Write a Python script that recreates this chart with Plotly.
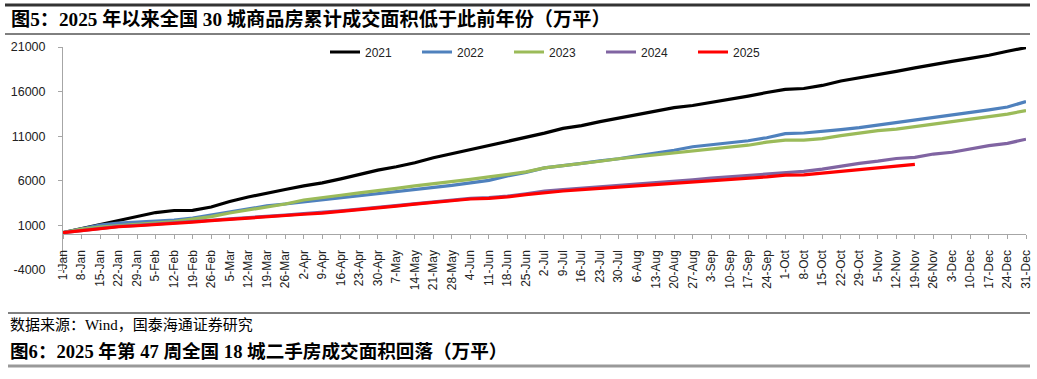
import plotly.graph_objects as go

# ---- data (万平, weekly cumulative) ----
weeks = ["1-Jan","8-Jan","15-Jan","22-Jan","29-Jan","5-Feb","12-Feb","19-Feb","26-Feb",
         "5-Mar","12-Mar","19-Mar","26-Mar","2-Apr","9-Apr","16-Apr","23-Apr","30-Apr",
         "7-May","14-May","21-May","28-May","4-Jun","11-Jun","18-Jun","25-Jun","2-Jul",
         "9-Jul","16-Jul","23-Jul","30-Jul","6-Aug","13-Aug","20-Aug","27-Aug","3-Sep",
         "10-Sep","17-Sep","24-Sep","1-Oct","8-Oct","15-Oct","22-Oct","29-Oct","5-Nov",
         "12-Nov","19-Nov","26-Nov","3-Dec","10-Dec","17-Dec","24-Dec","31-Dec"]

y2021 = [200, 640, 1150, 1600, 2050, 2440, 2670, 2690, 3060, 3680, 4190, 4640, 5030, 5430,
         5770, 6220, 6720, 7200, 7570, 8020, 8580, 9030, 9480, 9990, 10380, 10830, 11340,
         11880, 12180, 12630, 13030, 13370, 13760, 14210, 14440, 14770, 15110, 15500, 15900,
         16240, 16350, 16690, 17190, 17530, 17930, 18260, 18660, 19050, 19390, 19730, 20070,
         20520, 20930]
y2022 = [200, 640, 1040, 1260, 1370, 1490, 1600, 1820, 2160, 2500, 2840, 3180, 3400, 3630,
         3850, 4080, 4300, 4530, 4750, 4980, 5200, 5480, 5770, 6050, 6550, 6950, 7450, 7680,
         7960, 8240, 8470, 8810, 9090, 9420, 9820, 10040, 10270, 10490, 10830, 11280, 11360,
         11510, 11730, 11960, 12240, 12520, 12750, 13030, 13310, 13650, 13950, 14270, 14890]
y2023 = [200, 590, 810, 980, 1150, 1260, 1430, 1710, 1990, 2390, 2720, 3060, 3400, 3850,
         4080, 4380, 4640, 4940, 5150, 5430, 5650, 5880, 6160, 6440, 6720, 7000, 7450, 7680,
         7960, 8190, 8470, 8690, 8920, 9140, 9370, 9590, 9760, 9990, 10330, 10550, 10570,
         10720, 11060, 11340, 11620, 11790, 12070, 12350, 12630, 12920, 13200, 13480, 13870]
y2024 = [200, 440, 720, 900, 1010, 1130, 1270, 1420, 1580, 1740, 1850, 1980, 2150, 2310,
         2440, 2620, 2820, 3020, 3220, 3440, 3640, 3840, 4020, 4110, 4280, 4550, 4850, 5000,
         5150, 5300, 5450, 5600, 5760, 5930, 6100, 6300, 6450, 6620, 6780, 6950, 7050, 7300,
         7650, 7950, 8200, 8500, 8620, 9000, 9200, 9600, 9950, 10200, 10660]
y2025 = [200, 420, 680, 850, 960, 1080, 1220, 1370, 1530, 1690, 1790, 1920, 2090, 2250,
         2380, 2560, 2760, 2960, 3160, 3380, 3580, 3780, 3960, 4040, 4200, 4450, 4700, 4860,
         5020, 5160, 5300, 5430, 5570, 5700, 5840, 5960, 6150, 6280, 6440, 6630, 6670, 6860,
         7050, 7290, 7480, 7650, 7850]

series = [("2021", y2021, "#000000"), ("2022", y2022, "#4f81bd"), ("2023", y2023, "#9bbb59"),
          ("2024", y2024, "#8064a2"), ("2025", y2025, "#ff0000")]

y_ticks = [-4000, 1000, 6000, 11000, 16000, 21000]

title5 = "图5：2025 年以来全国 30 城商品房累计成交面积低于此前年份（万平）"
source = "数据来源：Wind，国泰海通证券研究"
title6 = "图6：2025 年第 47 周全国 18 城二手房成交面积回落（万平）"

# ---- layout geometry (pixels) ----
W, H = 1037, 379
L, R, T, B = 63, 1026, 47, 270


def px_x(px):
    return (px - L) / (R - L)


def px_y(py):
    return (B - py) / (B - T)


SANS = "Liberation Sans, Arial, sans-serif"
SERIF = "Liberation Serif, Times New Roman, Noto Sans CJK SC, serif"

fig = go.Figure()
for name, vals, col in series:
    fig.add_trace(go.Scatter(x=weeks[:len(vals)], y=vals, name=name, mode="lines",
                             line=dict(color=col, width=3.2)))

fig.update_layout(
    width=W, height=H,
    margin=dict(l=L, r=W - R, t=T, b=H - B, pad=0, autoexpand=False),
    paper_bgcolor="white", plot_bgcolor="white",
    font=dict(family=SANS, size=12, color="#222222"),
    showlegend=True,
    legend=dict(orientation="h", x=px_x(325), xanchor="left", y=px_y(52), yanchor="middle",
                font=dict(family=SANS, size=12, color="#222222"),
                entrywidth=47, entrywidthmode="pixels", bgcolor="rgba(0,0,0,0)",
                itemwidth=30, tracegroupgap=0),
)

fig.update_xaxes(type="category", categoryorder="array", categoryarray=weeks,
                 range=[0, len(weeks) - 1], tickangle=-90, tickmode="array",
                 tickvals=weeks, ticktext=weeks, ticklabeloverflow="allow",
                 showline=True, linecolor="#a6a6a6", linewidth=1,
                 ticks="outside", ticklen=4, tickcolor="#a6a6a6",
                 showgrid=False, zeroline=False, anchor="free", position=0.16,
                 tickfont=dict(family=SANS, size=12, color="#222222"), ticklabelstandoff=6)

fig.update_yaxes(range=[-4000, 21000], tickvals=y_ticks, ticktext=[str(v) for v in y_ticks],
                 showline=True, linecolor="#a6a6a6", linewidth=1,
                 ticks="outside", ticklen=4, tickcolor="#a6a6a6",
                 showgrid=False, zeroline=False, ticklabeloverflow="allow",
                 tickfont=dict(family=SANS, size=12.5, color="#222222"), ticklabelstandoff=10)

# rules
shapes = [
    dict(y=5, w=3, col="#333333", x0=5, x1=1030),
    dict(y=34, w=1, col="#000000", x0=5, x1=1030),
    dict(y=313, w=1, col="#000000", x0=8, x1=1030),
    dict(y=366, w=3, col="#999999", x0=8, x1=1030),
]
for s in shapes:
    fig.add_shape(type="line", xref="paper", yref="paper",
                  x0=px_x(s["x0"]), x1=px_x(s["x1"]), y0=px_y(s["y"]), y1=px_y(s["y"]),
                  line=dict(color=s["col"], width=s["w"]))

fig.add_annotation(text="<b>" + title5 + "</b>", xref="paper", yref="paper",
                   x=px_x(9), y=px_y(19), xanchor="left", yanchor="middle", showarrow=False,
                   font=dict(family=SERIF, size=19.2, color="#000000"))
fig.add_annotation(text=source, xref="paper", yref="paper",
                   x=px_x(8), y=px_y(325), xanchor="left", yanchor="middle", showarrow=False,
                   font=dict(family=SERIF, size=15, color="#000000"))
fig.add_annotation(text="<b>" + title6 + "</b>", xref="paper", yref="paper",
                   x=px_x(8), y=px_y(351), xanchor="left", yanchor="middle", showarrow=False,
                   font=dict(family=SERIF, size=18.6, color="#000000"))

fig.write_html("out.html", config={"displayModeBar": False},
               post_script="document.body.style.margin='0';document.body.style.padding='0';"
                           "document.body.style.overflow='hidden';")
